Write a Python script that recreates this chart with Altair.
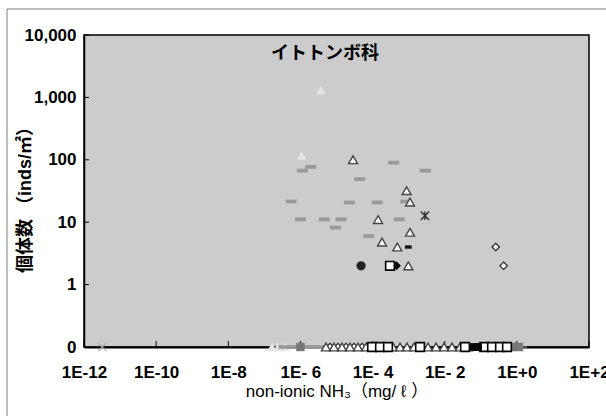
import altair as alt
import pandas as pd

# ---------------- data ----------------
# light filled triangles
lt_x = [3.67e-6, 1.08e-6, 1.63e-7, 2.39e-7, 3.73e-7]
lt_y = [1300, 117, 0, 0, 0]
# grey dashes
gd_x = [1.93e-6, 1.13e-6, 4.4e-5, 3.86e-4, 2.9e-3, 5.5e-7, 2.27e-5, 1.33e-4,
        8.3e-4, 1.0e-6, 4.6e-6, 1.33e-5, 9.3e-6, 5.5e-4, 7.8e-5,
        3.5e-7, 5.85e-7, 9.7e-7, 1.62e-6, 2.7e-6, 3.96e-6]
gd_y = [77, 67, 49, 90, 67, 21.5, 20.7, 20.7, 21.5, 11.1, 11.1, 11.1, 8.2, 11.1, 6.0,
        0, 0, 0, 0, 0, 0]
# dark grey squares
ds_x = [1.0e-6, 0.78, 1.08]
ds_y = [0, 0, 0]
# open triangles
ot_x = [2.87e-5, 8.8e-4, 1.09e-3, 1.42e-4, 1.09e-3, 1.83e-4, 4.85e-4, 9.8e-4,
        5.1e-6, 8.5e-6, 1.42e-5, 2.37e-5, 3.94e-5, 6.6e-5, 3.69e-4, 5.77e-4, 9.0e-4,
        1.41e-3, 3.44e-3, 5.74e-3, 9.6e-3, 1.59e-2, 2.65e-2, 4.43e-2]
ot_y = [100, 32, 21, 11, 6.9, 4.8, 4.0, 2.0] + [0] * 16
# open diamonds
od_x = [0.26, 0.43, 6.6e-6, 1.1e-5, 1.84e-5, 3.05e-5, 5.1e-5]
od_y = [4, 2, 0, 0, 0, 0, 0]
# black diamond
bd_x = [4.6e-4]
bd_y = [2]
# open squares
os_x = [3.04e-4, 9.7e-5, 1.61e-4, 2.68e-4, 2.07e-3, 3.66e-2, 0.123, 0.205, 0.341, 0.533]
os_y = [2, 0, 0, 0, 0, 0, 0, 0, 0, 0]
# black squares
bs_x = [6.5e-2, 8.4e-2]
bs_y = [0, 0]
# black circle
bc_x = [4.8e-5]
bc_y = [2]
# black dash
bk_x = [9.8e-4]
bk_y = [4.0]
# asterisk
as_x = [2.84e-3]
as_y = [12.7]
# plus
pl_x = [1.45]
pl_y = [0]
# x cross
cx_x = [3.2e-12]
cx_y = [0]

x_ticks = [1e-12, 1e-10, 1e-8, 1e-6, 1e-4, 1e-2, 1e0, 1e2]
x_labels = ["1E-12", "1E-10", "1E-8", "1E- 6", "1E- 4", "1E- 2", "1E+0", "1E+2"]
y_ticks = [0.1, 1, 10, 100, 1000, 10000]
title_text = ["イトトンボ科"]

FONT = "Liberation Sans, Noto Sans CJK JP"
W, H = 505, 312

xs = alt.Scale(type="log", domain=[1e-12, 1e2])
ys = alt.Scale(type="log", domain=[0.1, 10000])

lab_arr = "[" + ",".join("'%s'" % s for s in x_labels) + "]"
xaxis = alt.Axis(values=x_ticks, labelExpr=lab_arr + "[round((log(datum.value)/LN10 + 12)/2)]",
                 grid=False, ticks=False, tickSize=0, labelPadding=17, labelFontSize=17,
                 labelFont=FONT, labelFontWeight="bold", labelColor="black",
                 domainColor="black", domainWidth=2,
                 title="non-ionic NH₃（mg/ ℓ ）", titleFont=FONT, titleFontSize=17,
                 titleFontWeight="normal", titleColor="black", titleY=44,
                 titleBaseline="middle", labelFlush=False, labelOverlap=False)
yaxis = alt.Axis(values=y_ticks,
                 labelExpr="datum.value < 1 ? '0' : format(datum.value, ',')",
                 grid=False, ticks=False, tickSize=0, labelPadding=8, labelFontSize=17,
                 labelFont=FONT, labelFontWeight="bold", labelColor="black",
                 domainColor="black", domainWidth=1.5,
                 title="個体数 （inds/㎡）", titleFont=FONT, titleFontSize=18,
                 titleFontWeight="bold", titleColor="black", titleX=-59, titleY=160,
                 titleAngle=-90, titleAlign="center", titleBaseline="middle",
                 labelFlush=False, labelOverlap=False)

X = alt.X("x:Q", scale=xs, axis=xaxis)
Y = alt.Y("yp:Q", scale=ys, axis=yaxis)

DASH = "M-1,-0.34H1V0.34H-1Z"
BDASH = "M-1,-0.5H1V0.5H-1Z"
AST = "M-1,-1L1,1M-1,1L1,-1M0,-1V1"
PLUS = "M-1,0H1M0,-1V1"
XCROSS = "M-1,-1L1,1M-1,1L1,-1"


def pts(xv, yv, shape, size, fill=None, stroke=None, sw=1.0):
    df = pd.DataFrame({"x": xv, "y": yv})
    if fill is None:
        m = alt.Chart(df).mark_point(shape=shape, size=size, filled=False,
                                     stroke=stroke, strokeWidth=sw, opacity=1)
    elif stroke is None:
        m = alt.Chart(df).mark_point(shape=shape, size=size, filled=True,
                                     fill=fill, strokeWidth=0, opacity=1)
    else:
        m = alt.Chart(df).mark_point(shape=shape, size=size, filled=True,
                                     fill=fill, stroke=stroke, strokeWidth=sw, opacity=1)
    return m.transform_calculate(yp="max(datum.y, 0.1)").encode(x=X, y=Y)


layers = [
    pts(cx_x, cx_y, XCROSS, 60, stroke="#aaaaaa", sw=1.2),
    pts(lt_x, lt_y, "triangle-up", 95, fill="#e4e4e4"),
    pts(gd_x, gd_y, DASH, 121, fill="#999999"),
    pts(ds_x, ds_y, "square", 70, fill="#777777"),
    pts(od_x, od_y, "diamond", 55, fill="white", stroke="#222222", sw=1.2),
    pts(ot_x, ot_y, "triangle-up", 80, fill="white", stroke="#444444", sw=1.4),
    pts(bd_x, bd_y, "diamond", 80, fill="black"),
    pts(os_x, os_y, "square", 75, fill="white", stroke="black", sw=1.6),
    pts(bs_x, bs_y, "square", 60, fill="black"),
    pts(bc_x, bc_y, "circle", 86, fill="#222222"),
    pts(bk_x, bk_y, BDASH, 45, fill="#111111"),
    pts(as_x, as_y, AST, 70, stroke="#333333", sw=1.5),
    pts(pl_x, pl_y, PLUS, 80, stroke="#888888", sw=1.2),
]

# inward tick marks
ytick = alt.Chart(pd.DataFrame({"yp": y_ticks})).mark_rule(color="black", strokeWidth=1).encode(
    y=Y, x=alt.value(0), x2=alt.value(5))
xtick = alt.Chart(pd.DataFrame({"x": x_ticks})).mark_rule(color="black", strokeWidth=1).encode(
    x=X, y=alt.value(H), y2=alt.value(H - 6))

# outer chart frame (left and top edges visible in the window)
one = pd.DataFrame({"a": [0]})
frame_l = alt.Chart(one).mark_rule(color="#808080", strokeWidth=1).encode(
    x=alt.value(-77), y=alt.value(-26), y2=alt.value(420))
frame_t = alt.Chart(one).mark_rule(color="#808080", strokeWidth=1).encode(
    x=alt.value(-77), x2=alt.value(600), y=alt.value(-26))

# panel title inside the plot area
title = alt.Chart(pd.DataFrame({"t": title_text})).mark_text(
    font="Noto Sans CJK JP", fontSize=18, fontWeight="bold", color="black",
    align="center", baseline="middle").encode(
    text="t:N", x=alt.value(241), y=alt.value(19))

chart = alt.layer(frame_l, frame_t, ytick, xtick, *layers, title).properties(
    width=W, height=H,
    autosize=alt.AutoSizeParams(type="none"),
    padding={"left": 84, "top": 35, "right": 17, "bottom": 69},
    background="white",
).configure_view(fill="#cccccc", stroke="black", strokeWidth=1.5)

chart.save("out.html", embed_options={"renderer": "svg", "actions": False})
